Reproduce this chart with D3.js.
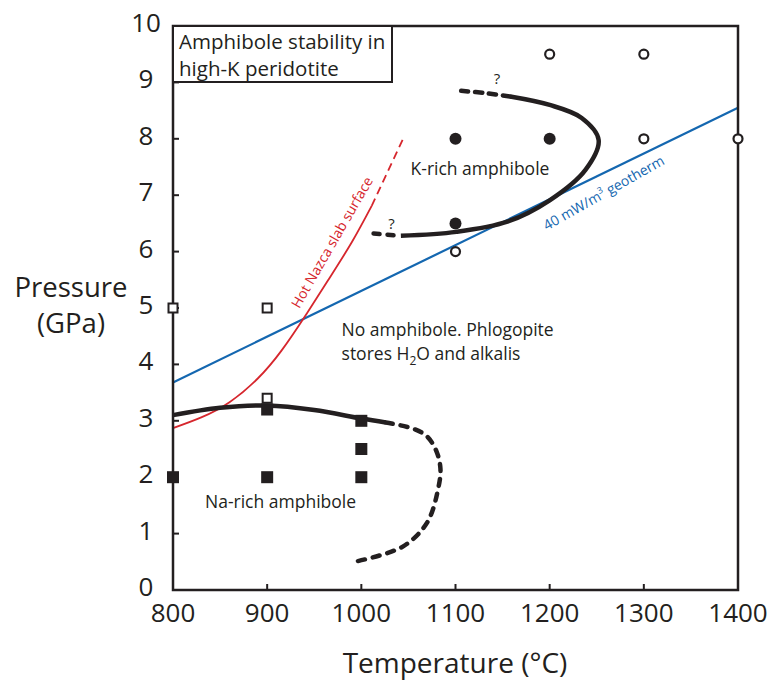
<!DOCTYPE html>
<html>
<head>
<meta charset="utf-8">
<script src="https://cdn.jsdelivr.net/npm/d3@7"></script>
<style>
  body { margin: 0; background: #fff; }
  text { font-family: "Open Sans", sans-serif; fill: #231f20; }
</style>
</head>
<body>
<div id="chart"></div>
<script>
// ticks
const tempTicks = [800, 900, 1000, 1100, 1200, 1300, 1400]
const presTicks = [0, 1, 2, 3, 4, 5, 6, 7, 8, 9, 10]

// experiments
const filledSquares = [[800, 2], [900, 2], [900, 3.2], [1000, 2], [1000, 2.5], [1000, 3]]
const openSquares = [[800, 5], [900, 5], [900, 3.4]]
const filledCircles = [[1100, 8], [1200, 8], [1100, 6.5]]
const openCircles = [[1100, 6], [1200, 9.5], [1300, 9.5], [1300, 8], [1400, 8]]

// boundaries
const naSolid = [[800, 3.1], [850, 3.23], [900, 3.27], [950, 3.19], [1000, 3.04], [1026, 2.97]]
const naDashed = [[1026, 2.97], [1055, 2.86], [1070, 2.72], [1080, 2.45], [1084, 2.15], [1082, 1.83], [1070, 1.2], [1044, 0.77], [993, 0.5]]
const kSolid = [[1042, 6.28], [1101, 6.35], [1155, 6.53], [1200, 6.91], [1238, 7.45], [1252, 7.98], [1234, 8.37], [1200, 8.6], [1158, 8.75]]
const kDashTop = [[1106, 8.85], [1132, 8.81], [1158, 8.75]]
const kDashLow = [[1013, 6.32], [1042, 6.28]]
const slabSolid = [[800, 2.87], [830, 3.06], [860, 3.33], [890, 3.75], [915, 4.24], [940, 4.85], [965, 5.5], [990, 6.17], [1011, 6.81]]
const slabDashed = [[1011, 6.81], [1044, 7.99]]
const geotherm = [[800, 3.68], [1400, 8.55]]

var width = 777, height = 686
var margin = {top: 26, right: 39, bottom: 96, left: 173}

var x = d3.scaleLinear().domain([800, 1400]).range([margin.left, width - margin.right])
var y = d3.scaleLinear().domain([0, 10]).range([height - margin.bottom, margin.top])

var svg = d3.select("#chart").append("svg")
  .attr("width", width)
  .attr("height", height)

var ink = "#231f20", red = "#d6262d", blue = "#1467b0"

var curve = d3.line()
  .x(d => x(d[0]))
  .y(d => y(d[1]))
  .curve(d3.curveCatmullRom.alpha(0.5))

var smooth = d3.line()
  .x(d => x(d[0]))
  .y(d => y(d[1]))
  .curve(d3.curveNatural)

// geotherm + slab
svg.append("path").datum(geotherm).attr("d", curve)
  .attr("fill", "none").attr("stroke", blue).attr("stroke-width", 2.2)
svg.append("path").datum(slabSolid).attr("d", smooth)
  .attr("fill", "none").attr("stroke", red).attr("stroke-width", 1.8)
svg.append("path").datum(slabDashed).attr("d", curve)
  .attr("fill", "none").attr("stroke", red).attr("stroke-width", 1.8)
  .attr("stroke-dasharray", "8,5")

// amphibole fields
function bound(data, dash) {
  var p = svg.append("path").datum(data).attr("d", curve)
    .attr("fill", "none").attr("stroke", ink).attr("stroke-width", 4.5)
  if (dash) p.attr("stroke-dasharray", dash).attr("stroke-linecap", "round")
  return p
}
bound(naSolid)
bound(naDashed, "7,8")
bound(kSolid)
bound(kDashTop, "7,7")
bound(kDashLow, "6,8")

// frame
var axisG = svg.append("g")
axisG.append("rect")
  .attr("x", x(800)).attr("y", y(10))
  .attr("width", x(1400) - x(800)).attr("height", y(0) - y(10))
  .attr("fill", "none").attr("stroke", ink).attr("stroke-width", 2.5)

axisG.selectAll(".xt").data(tempTicks.slice(1, -1)).enter().append("line")
  .attr("x1", d => x(d)).attr("x2", d => x(d))
  .attr("y1", y(0)).attr("y2", y(0) - 6)
  .attr("stroke", ink).attr("stroke-width", 2)
axisG.selectAll(".yt").data(presTicks.slice(1, -1)).enter().append("line")
  .attr("x1", x(800)).attr("x2", x(800) + 6)
  .attr("y1", d => y(d)).attr("y2", d => y(d))
  .attr("stroke", ink).attr("stroke-width", 2)

axisG.selectAll(".xl").data(tempTicks).enter().append("text")
  .attr("x", d => x(d)).attr("y", y(0) + 32)
  .attr("text-anchor", "middle").attr("font-size", 26)
  .text(d => d)
axisG.selectAll(".yl").data(presTicks).enter().append("text")
  .attr("x", 146).attr("y", d => y(d) + 6)
  .attr("text-anchor", "middle").attr("font-size", 26)
  .text(d => d)

svg.append("text").attr("x", 455).attr("y", 673)
  .attr("text-anchor", "middle").attr("font-size", 28).text("Temperature (°C)")
svg.append("text").attr("x", 71).attr("y", 297)
  .attr("text-anchor", "middle").attr("font-size", 27.5).text("Pressure")
svg.append("text").attr("x", 71).attr("y", 333)
  .attr("text-anchor", "middle").attr("font-size", 27.5).text("(GPa)")

// markers
svg.selectAll(".fs").data(filledSquares).enter().append("rect")
  .attr("x", d => x(d[0]) - 6).attr("y", d => y(d[1]) - 6)
  .attr("width", 12).attr("height", 12).attr("fill", ink)
svg.selectAll(".os").data(openSquares).enter().append("rect")
  .attr("x", d => x(d[0]) - 4.5).attr("y", d => y(d[1]) - 4.5)
  .attr("width", 9).attr("height", 9)
  .attr("fill", "#fff").attr("stroke", ink).attr("stroke-width", 2)
svg.selectAll(".fc").data(filledCircles).enter().append("circle")
  .attr("cx", d => x(d[0])).attr("cy", d => y(d[1])).attr("r", 6)
  .attr("fill", ink)
svg.selectAll(".oc").data(openCircles).enter().append("circle")
  .attr("cx", d => x(d[0])).attr("cy", d => y(d[1])).attr("r", 4.5)
  .attr("fill", "#fff").attr("stroke", ink).attr("stroke-width", 2.2)

// title box
svg.append("rect")
  .attr("x", x(800)).attr("y", y(10))
  .attr("width", 219).attr("height", 56)
  .attr("fill", "#fff").attr("stroke", ink).attr("stroke-width", 2)
svg.append("text").attr("x", x(800) + 6).attr("y", y(10) + 23)
  .attr("font-size", 20.5).text("Amphibole stability in")
svg.append("text").attr("x", x(800) + 6).attr("y", y(10) + 50)
  .attr("font-size", 20.5).text("high-K peridotite")

// field labels
svg.append("text").attr("x", x(1126)).attr("y", y(7.36))
  .attr("font-size", 17.5).attr("text-anchor", "middle").text("K-rich amphibole")
svg.append("text").attr("x", x(834)).attr("y", y(1.45))
  .attr("font-size", 17.5).text("Na-rich amphibole")
svg.append("text").attr("x", x(979)).attr("y", y(4.5))
  .attr("font-size", 17.5).text("No amphibole. Phlogopite")
var t2 = svg.append("text").attr("x", x(979)).attr("y", y(4.08)).attr("font-size", 17.5)
t2.append("tspan").text("stores H")
t2.append("tspan").attr("dy", 5).attr("font-size", 12).text("2")
t2.append("tspan").attr("dy", -5).text("O and alkalis")

svg.append("text").attr("x", x(1144)).attr("y", y(8.97))
  .attr("font-size", 15).attr("text-anchor", "middle").text("?")
svg.append("text").attr("x", x(1032)).attr("y", y(6.4))
  .attr("font-size", 15).attr("text-anchor", "middle").text("?")

// rotated line labels
svg.append("text")
  .attr("transform", "translate(" + x(934) + "," + y(4.98) + ") rotate(-60)")
  .attr("font-size", 14).style("fill", red).text("Hot Nazca slab surface")
var g = svg.append("text")
  .attr("transform", "translate(" + x(1197) + "," + y(6.37) + ") rotate(-29.5)")
  .attr("font-size", 14).style("fill", blue)
g.append("tspan").text("40 mW/m")
g.append("tspan").attr("dy", -6).attr("font-size", 9).text("3")
g.append("tspan").attr("dy", 6).text(" geotherm")
</script>
</body>
</html>
